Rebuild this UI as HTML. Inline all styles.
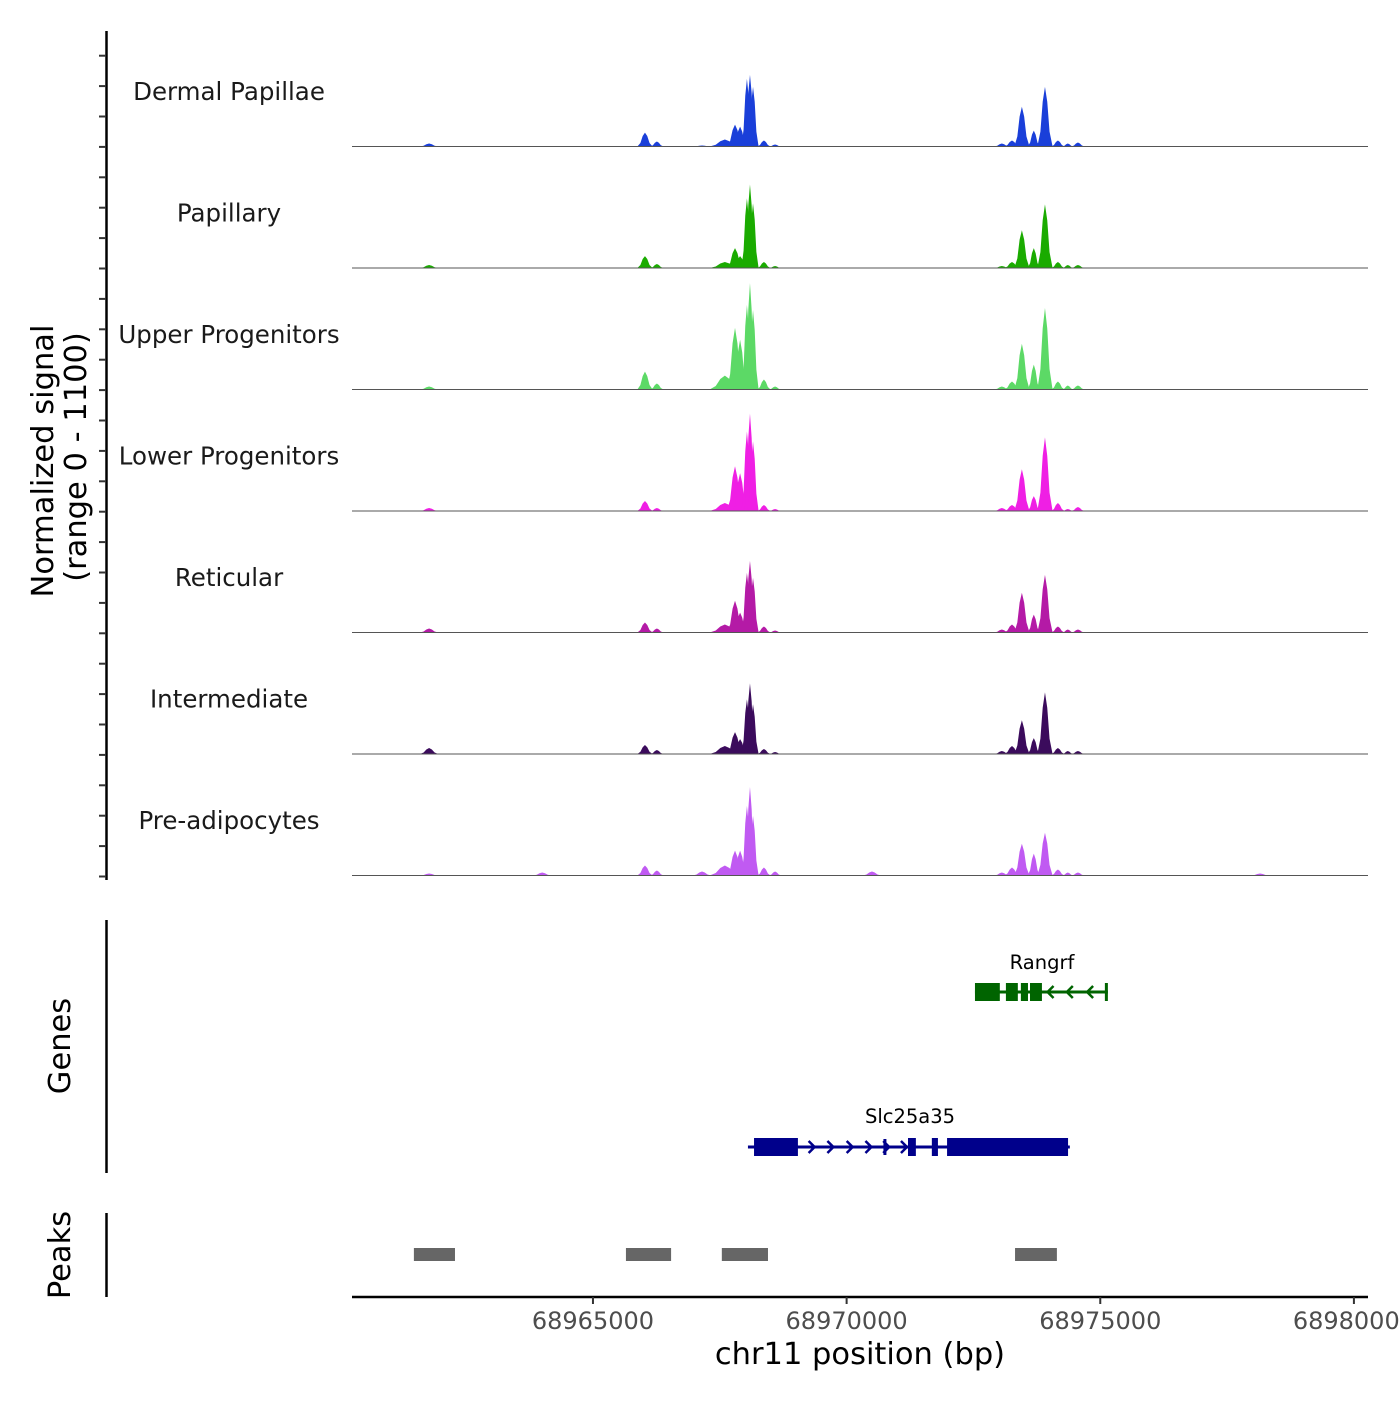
<!DOCTYPE html>
<html><head><meta charset="utf-8"><style>
body{margin:0;background:#fff}
text{font-family:"DejaVu Sans","Liberation Sans",sans-serif}
</style></head><body>
<svg id="chart" width="1400" height="1400" viewBox="0 0 1400 1400" xmlns="http://www.w3.org/2000/svg"></svg>
<script>
const trackNames=["Dermal Papillae","Papillary","Upper Progenitors","Lower Progenitors","Reticular","Intermediate","Pre-adipocytes"];
const trackColors=["#1a3fd9","#1aab00","#5cd966","#ef1fe4","#b41aa6","#3b0b5c","#c05af2"];
const peakPos=[68961770,68966025,68966260,68967600,68967800,68967900,68968035,68968095,68968155,68968370,68968590,68973060,68973260,68973455,68973690,68973910,68974165,68974360,68974560,68964000,68967150,68970500,68978150];
const peakWidth=[180,150,130,300,160,140,110,110,110,130,120,150,150,150,120,150,130,110,130,180,180,180,180];
const sigD=[27,126,45,63,198,180,612,648,540,54,18,27,54,360,144,540,54,27,36,0,9,0,0];
const sigP=[27,108,36,54,180,108,630,756,585,54,18,18,54,342,180,576,54,27,27,0,0,0,0];
const sigU=[27,162,54,126,558,450,765,963,720,90,27,27,72,414,225,738,72,36,36,0,0,0,0];
const sigL=[27,90,27,72,405,342,720,882,630,54,18,27,54,378,135,666,72,18,36,0,0,0,0];
const sigR=[36,90,36,72,288,180,540,648,495,54,18,27,72,360,162,522,54,27,27,0,0,0,0];
const sigI=[54,81,36,72,198,135,495,639,450,45,18,27,72,306,144,558,54,27,27,0,0,0,0];
const sigA=[18,90,45,90,225,225,630,801,540,72,36,27,72,288,198,387,54,27,27,27,36,36,18];
const signals=[sigD,sigP,sigU,sigL,sigR,sigI,sigA];
const xTicks=[68965000,68970000,68975000,68980000];
const rangrfExons=[[68972530,68973020],[68973140,68973375],[68973435,68973575],[68973615,68973850]];
const rangrfSpan=[68972530,68975150];
const rangrfArrows=[68974000,68974380,68974780];
const slcExons=[[68968175,68969040],[68971210,68971365],[68971680,68971800],[68971980,68974365]];
const slcSpan=[68968055,68974400];
const slcArrows=[68969330,68969700,68970080,68970450,68970800,68971150];
const peakRegions=[[68961470,68962280],[68965650,68966540],[68967540,68968450],[68973320,68974145]];

const NS="http://www.w3.org/2000/svg";
const svg=document.getElementById('chart');
function mk(t,a,p){const e=document.createElementNS(NS,t);for(const k in a)e.setAttribute(k,a[k]);(p||svg).appendChild(e);return e;}
const x0=68960250,kx=0.05073;
function xs(bp){return 352+(bp-x0)*kx;}
const trackH=121.5,top0=25;
function ys(i,v){return top0+trackH*(i+1)-v/1100*trackH;}

let ax=mk('line',{x1:106.5,y1:31,x2:106.5,y2:880,stroke:'#000','stroke-width':2.5});

for(let y=55.7;y<=877;y+=30.4){let t=mk('line',{x1:99,y1:y,x2:106,y2:y,stroke:'#333','stroke-width':2});}
let yt=mk('text',{transform:'translate(53,461) rotate(-90)','text-anchor':'middle','font-size':30.5,fill:'#000'});
yt.textContent='Normalized signal';
let yt2=mk('text',{transform:'translate(86,457) rotate(-90)','text-anchor':'middle','font-size':30.5,fill:'#000'});
yt2.textContent='(range 0 - 1100)';

for(let i=0;i<7;i++){
  const g=mk('g',{});
  
  
  const base=ys(i,0);
  const lb=mk('text',{x:229,y:top0+trackH*i+75,'text-anchor':'middle','font-size':24.5,fill:'#1a1a1a'},g);
  lb.textContent=trackNames[i];
  signals[i].forEach((v,j)=>{
    if(v<=0)return;
    const c=peakPos[j],w=peakWidth[j];
    const p=mk('polygon',{points:`${xs(c-w)},${base} ${xs(c-w*0.6)},${ys(i,v*0.25)} ${xs(c-w*0.3)},${ys(i,v*0.75)} ${xs(c)},${ys(i,v)} ${xs(c+w*0.3)},${ys(i,v*0.75)} ${xs(c+w*0.6)},${ys(i,v*0.25)} ${xs(c+w)},${base}`,fill:trackColors[i]},g);
    
  });
  const bl=mk('line',{x1:352,y1:base,x2:1368,y2:base,stroke:'#555','stroke-width':1},g);
  
}

let ga=mk('line',{x1:106.5,y1:920,x2:106.5,y2:1173,stroke:'#000','stroke-width':2.5});

let gt=mk('text',{transform:'translate(70,1046) rotate(-90)','text-anchor':'middle','font-size':30.5});
gt.textContent='Genes';
function gene(name,span,exons,arrows,dir,col,y,labelX,labelY){
  const g=mk('g',{});
  
  
  mk('line',{x1:xs(span[0]),y1:y,x2:xs(span[1]),y2:y,stroke:col,'stroke-width':3},g);
  exons.forEach(e=>{const r=mk('rect',{x:xs(e[0]),y:y-9,width:xs(e[1])-xs(e[0]),height:18,fill:col},g);});
  arrows.forEach(a=>{const X=xs(a);mk('polyline',{points:`${X-4*dir},${y-6} ${X+2*dir},${y} ${X-4*dir},${y+6}`,fill:'none',stroke:col,'stroke-width':2.5},g);});
  const t=mk('text',{x:labelX,y:labelY,'text-anchor':'middle','font-size':19.5,fill:'#000'},g);
  t.textContent=name;
  return g;
}
gene('Rangrf',rangrfSpan,rangrfExons,rangrfArrows,-1,'#006400',992,1042,969);
mk('rect',{x:xs(rangrfSpan[1])-3,y:983,width:3,height:18,fill:'#006400'});
gene('Slc25a35',slcSpan,slcExons,slcArrows,1,'#00008b',1147,910,1123);
mk('rect',{x:xs(68970755)-1.5,y:1139,width:3,height:16,fill:'#00008b'});

let pa=mk('line',{x1:106.5,y1:1213,x2:106.5,y2:1297,stroke:'#000','stroke-width':2.5});

let pt=mk('text',{transform:'translate(70,1255) rotate(-90)','text-anchor':'middle','font-size':30.5});
pt.textContent='Peaks';
peakRegions.forEach(r=>{const e=mk('rect',{x:xs(r[0]),y:1248,width:xs(r[1])-xs(r[0]),height:13,fill:'#666'});});

let xa=mk('line',{x1:352,y1:1297,x2:1368,y2:1297,stroke:'#000','stroke-width':2.5});

xTicks.forEach(t=>{const X=xs(t);
  const l=mk('line',{x1:X,y1:1297,x2:X,y2:1304,stroke:'#333','stroke-width':2});
  const tx=mk('text',{x:X,y:1329,'text-anchor':'middle','font-size':24,fill:'#4d4d4d'});tx.textContent=t;});
let xt=mk('text',{x:860,y:1364,'text-anchor':'middle','font-size':30.5});
xt.textContent='chr11 position (bp)';
</script>
</body></html>
